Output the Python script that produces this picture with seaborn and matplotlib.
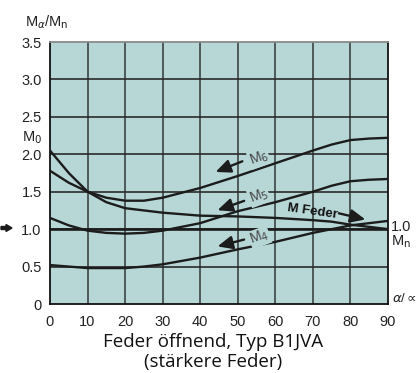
import matplotlib
matplotlib.use("Agg")
import matplotlib.pyplot as plt
import seaborn as sns
import pandas as pd
import numpy as np

# ---- data ----
alpha = [0, 5, 10, 15, 20, 25, 30, 40, 50, 60, 70, 75, 80, 85, 90]
m_feder = [2.05, 1.75, 1.50, 1.36, 1.28, 1.25, 1.22, 1.18, 1.17, 1.15, 1.12, 1.10, 1.06, 1.03, 1.00]
m6 = [1.78, 1.62, 1.50, 1.42, 1.38, 1.38, 1.42, 1.55, 1.71, 1.88, 2.05, 2.13, 2.19, 2.21, 2.22]
m5 = [1.15, 1.05, 0.98, 0.95, 0.94, 0.95, 0.98, 1.08, 1.24, 1.36, 1.50, 1.58, 1.64, 1.66, 1.67]
m4 = [0.52, 0.50, 0.48, 0.48, 0.48, 0.50, 0.53, 0.62, 0.73, 0.83, 0.95, 1.00, 1.05, 1.08, 1.11]
x_ticks = [0, 10, 20, 30, 40, 50, 60, 70, 80, 90]
y_ticks = [0, 0.5, 1.0, 1.5, 2.0, 2.5, 3.0, 3.5]
y_labels = ["0", "0.5", "1.0", "1.5", "2.0", "2.5", "3.0", "3.5"]

df = pd.concat([
    pd.DataFrame({"alpha": alpha, "M": m_feder, "curve": "M Feder"}),
    pd.DataFrame({"alpha": alpha, "M": m6, "curve": "M6"}),
    pd.DataFrame({"alpha": alpha, "M": m5, "curve": "M5"}),
    pd.DataFrame({"alpha": alpha, "M": m4, "curve": "M4"}),
])

sns.set_style("white")
plt.rcParams["font.family"] = ["Liberation Sans", "DejaVu Sans"]

BG = "#b7d6d6"
INK = "#1c1c1c"

fig = plt.figure(figsize=(4.17, 3.73), dpi=100)
ax = fig.add_axes([50 / 417, 69 / 373, 338 / 417, 262 / 373])
ax.set_facecolor(BG)

for v in x_ticks[1:-1]:
    ax.axvline(v, color="#3c4444", lw=1.2, zorder=1)
for v in y_ticks[1:-1]:
    ax.axhline(v, color="#2a2a2a", lw=1.2, zorder=1)
ax.axhline(1.0, color=INK, lw=1.9, zorder=2)

sns.lineplot(data=df, x="alpha", y="M", units="curve", estimator=None,
             color=INK, lw=1.7, ax=ax, legend=False, zorder=3)

ax.set_xlim(0, 90)
ax.set_ylim(0, 3.5)
ax.set_xticks(x_ticks)
ax.set_yticks(y_ticks)
ax.set_yticklabels(y_labels)
ax.tick_params(axis="both", length=0, labelsize=10.5, colors="#222222")
ax.tick_params(axis="x", pad=8)
ax.tick_params(axis="y", pad=6)
ax.set_xlabel("")
ax.set_ylabel("")
for s in ["left", "bottom", "right"]:
    ax.spines[s].set_color("#111111")
    ax.spines[s].set_linewidth(1.3)
ax.spines["top"].set_color("#8a8a8a")
ax.spines["top"].set_linewidth(1.3)

# curve labels with arrows
lab_kw = dict(fontsize=10, color="#444444", ha="center", va="center",
              rotation=20, zorder=5,
              bbox=dict(fc=BG, ec="none", pad=0.6))
arr_kw = dict(arrowstyle="-|>,head_length=0.9,head_width=0.4", color=INK, lw=1.7)
for name, (lx, ly), (tx, ty), (hx, hy) in [
    ("M$_6$", (55.6, 1.95), (51.9, 1.92), (43.4, 1.75)),
    ("M$_5$", (55.6, 1.44), (52.4, 1.39), (43.9, 1.24)),
    ("M$_4$", (55.8, 0.89), (52.4, 0.87), (43.9, 0.76)),
]:
    ax.text(lx, ly, name, **lab_kw)
    ax.annotate("", xy=(hx, hy), xytext=(tx, ty), arrowprops=arr_kw, zorder=5)

ax.text(70.0, 1.24, "M Feder", fontsize=9.5, fontweight="bold", color="#111111",
        ha="center", va="center", rotation=-8, zorder=5)
ax.annotate("", xy=(84.7, 1.12), xytext=(76.2, 1.22), arrowprops=arr_kw, zorder=5)

# outer texts
fig.text(25 / 417, 1 - 22 / 373, "M$_\\alpha$/M$_\\mathrm{n}$", fontsize=10.5,
         color="#222222", ha="left", va="center")
fig.text(32 / 417, 1 - 138 / 373, "M$_0$", fontsize=10.5, color="#222222",
         ha="center", va="center")
fig.text(391 / 417, 1 - 227 / 373, "1.0", fontsize=10.5, color="#222222",
         ha="left", va="center")
fig.text(391 / 417, 1 - 242 / 373, "M$_\\mathrm{n}$", fontsize=10.5, color="#222222",
         ha="left", va="center")
fig.text(392 / 417, 1 - 299 / 373, "$\\alpha$/$\\propto$", fontsize=9.5,
         color="#222222", ha="left", va="center")
fig.patches.append(matplotlib.patches.FancyArrow(
    1 / 417, 1 - 228 / 373, 11 / 417, 0, width=3 / 373, head_width=7 / 373,
    head_length=6 / 417, length_includes_head=True, color=INK,
    transform=fig.transFigure, figure=fig))

fig.text(213 / 417, 1 - 342 / 373, "Feder öffnend, Typ B1JVA", fontsize=13.5,
         color="#111111", ha="center", va="center",
         family=["Open Sans", "DejaVu Sans"])
fig.text(213 / 417, 1 - 362 / 373, "(stärkere Feder)", fontsize=13.5,
         color="#111111", ha="center", va="center",
         family=["Open Sans", "DejaVu Sans"])

fig.savefig("out.png", dpi=100)
